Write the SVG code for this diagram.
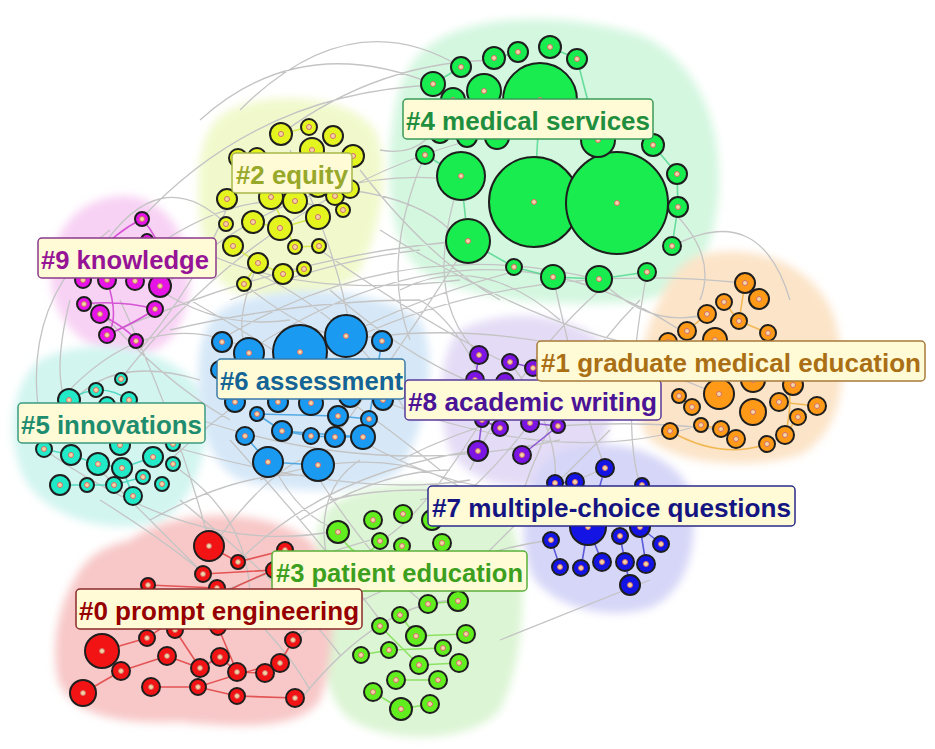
<svg xmlns="http://www.w3.org/2000/svg" width="935" height="749" viewBox="0 0 935 749">
<defs>
<filter id="soft" x="-10%" y="-10%" width="120%" height="120%"><feGaussianBlur stdDeviation="4"/></filter>
<marker id="dot" markerUnits="userSpaceOnUse" markerWidth="8" markerHeight="8" refX="4" refY="4" viewBox="0 0 8 8"><circle cx="4" cy="4" r="2.5" fill="#f4d6a4" stroke="#d46e6a" stroke-width="1"/></marker>
</defs>
<style>
.blob{filter:url(#soft)}
.gray{fill:none;stroke:#c4c4c4;stroke-width:1.3}
.ie{fill:none;stroke-width:1.6;opacity:0.85}
.dots{fill:none;stroke:none;marker-start:url(#dot);marker-mid:url(#dot);marker-end:url(#dot)}
circle.n{stroke:#1e1e1e;stroke-width:2}
.c0 circle.n{fill:#f21414}.c1 circle.n{fill:#ff9a18}.c2 circle.n{fill:#e4f41e}.c3 circle.n{fill:#62ee1e}.c4 circle.n{fill:#18ec4e}
.c5 circle.n{fill:#22eac8}.c6 circle.n{fill:#1a9af0}.c7 circle.n{fill:#1414e4}.c8 circle.n{fill:#7c14e4}.c9 circle.n{fill:#e614e6}
.lb rect{fill:#fefbd6;stroke-width:1.5}
.lb text{font-family:"Liberation Sans",Arial,sans-serif;font-weight:bold;font-size:25px}
</style>
<rect width="935" height="749" fill="#ffffff"/>
<g id="blobs">
<path class="blob" fill="#d4f7e0" d="M430 45 C470 15 560 10 640 35 C700 60 725 130 718 200 C712 260 690 300 620 303 C540 306 470 300 420 270 C385 240 385 160 395 110 C400 80 410 60 430 45 Z"/>
<path class="blob" fill="#f1f9cc" d="M230 110 C270 90 350 95 375 130 C392 170 380 230 360 270 C340 300 270 305 230 290 C200 270 195 200 200 160 C205 130 215 118 230 110 Z"/>
<path class="blob" fill="#f8d2f4" d="M100 200 C140 185 180 210 188 260 C195 310 175 350 140 355 C100 358 60 335 52 290 C45 250 65 210 100 200 Z"/>
<path class="blob" fill="#d2f5f0" d="M40 360 C90 335 170 345 200 390 C215 430 200 500 160 522 C110 535 50 520 25 480 C5 440 10 385 40 360 Z"/>
<path class="blob" fill="#d6e8f8" d="M230 305 C290 280 380 290 420 320 C440 360 425 430 400 470 C370 495 290 495 240 480 C200 460 195 400 200 350 C205 325 215 312 230 305 Z"/>
<path class="blob" fill="#e4dcf6" d="M460 330 C510 305 580 315 610 350 C620 400 610 460 570 480 C520 495 470 485 450 450 C435 410 440 350 460 330 Z"/>
<path class="blob" fill="#fce4c8" d="M700 255 C760 240 820 270 835 320 C848 370 845 430 800 455 C750 470 680 465 650 440 C625 410 640 340 660 300 C670 275 685 260 700 255 Z"/>
<path class="blob" fill="#d6d6f8" d="M560 450 C610 435 670 450 690 490 C700 540 690 590 650 608 C610 620 560 610 535 580 C515 545 520 470 560 450 Z"/>
<path class="blob" fill="#dcf5d4" d="M340 500 C390 475 470 480 510 520 C530 570 525 660 500 710 C470 745 380 745 345 715 C315 680 310 600 315 550 C318 520 325 508 340 500 Z"/>
<path class="blob" fill="#f8c8c8" d="M130 540 C170 510 260 505 310 540 C340 580 335 660 320 700 C300 730 240 728 180 722 C120 725 70 715 58 680 C50 640 60 600 80 570 C95 550 110 545 130 540 Z"/>
</g>
<g id="connectors">
<path class="gray" d="M140 220 Q260 90 440 85 M160 290 Q300 160 460 180 M105 335 Q300 250 480 240 M120 380 Q260 200 470 140 M60 400 Q150 300 250 350 M45 450 Q200 560 340 530 M170 460 Q320 320 520 270 M220 340 Q400 230 600 280 M250 350 Q480 200 680 330 M300 350 Q500 300 720 395 M350 340 Q520 260 745 283 M380 400 Q560 470 700 425 M360 440 Q500 520 600 470 M270 460 Q300 520 340 530 M310 465 Q370 560 420 600 M210 550 Q260 480 300 460 M240 560 Q330 470 480 450 M290 640 Q420 560 550 540 M300 700 Q380 600 460 600 M120 300 Q180 430 210 545 M100 470 Q150 520 200 570 M460 180 Q420 300 480 355 M470 240 Q400 350 335 437 M553 277 Q580 400 605 468 M599 279 Q650 330 707 314 M647 272 Q620 420 640 485 M510 362 Q560 430 555 483 M482 420 Q420 520 380 541 M530 423 Q480 490 430 520 M558 426 Q650 420 720 430 M673 246 Q760 200 790 300 M433 84 Q300 30 200 120 M461 67 Q350 0 240 110 M281 134 Q380 60 500 60 M226 224 Q160 160 100 250 M244 284 Q300 330 350 340 M258 263 Q230 330 250 353 M320 250 Q420 320 500 360 M350 190 Q420 200 450 230 M200 380 Q100 350 60 420 M180 470 Q250 520 250 600 M140 350 Q200 280 230 200 M70 300 Q50 380 70 410 M380 230 Q540 330 660 350 M420 500 Q520 470 600 510 M330 500 Q450 470 640 530 M150 440 Q350 500 470 480 M230 440 Q320 540 380 620 M600 290 Q520 360 470 470 M660 200 Q720 250 700 300 M380 150 Q430 160 450 100 M360 170 Q430 260 500 300 M290 150 Q340 260 350 330 M200 250 Q300 300 460 280 M150 250 Q250 180 330 210 M90 300 Q160 380 230 420 M40 420 Q20 300 110 230 M180 500 Q300 600 340 655 M200 600 Q300 560 370 540 M420 300 Q470 330 500 430 M640 300 Q560 380 520 500 M190 300 Q330 380 440 470 M170 330 Q300 300 420 300 M400 290 Q480 250 560 320 M425 155 Q380 260 410 340 M230 300 Q330 260 420 250 M330 290 Q430 380 530 400 M200 420 Q380 480 560 440 M260 480 Q420 430 500 520 M400 460 Q520 400 640 400 M150 520 Q260 460 330 480 M300 520 Q380 470 450 470 M160 290 Q220 330 290 320 M100 500 Q260 600 310 690 M340 600 Q300 500 360 460 M470 570 Q560 480 610 430 M500 640 Q600 600 650 580 M250 270 Q360 320 410 420"/>
<path class="ie" stroke="#54d88e" d="M461 176 L468 241 M468 241 L514 267 M514 267 L553 277 M553 277 L599 279 M599 279 L647 272 M672 246 L678 207 M678 207 L677 174 M677 174 L653 145 M433 84 L461 67 M494 58 L518 52 M550 47 L577 59 M577 59 L598 140 M425 155 L461 176 M534 202 L540 100"/>
<path class="ie" stroke="#d4e83c" d="M253 222 L280 228 M280 228 L318 217 M233 246 L258 263 M258 263 L283 274 M283 274 L304 269 M295 247 L319 246 M271 197 L295 247 M281 134 L309 127 M244 284 L258 263"/>
<path class="ie" stroke="#d040d0" d="M142 219 Q170 250 160 286 M107 280 Q120 320 107 335 M84 304 Q120 300 155 309 M100 314 Q130 330 136 341 M107 335 Q140 320 155 309 M142 219 Q100 240 83 280"/>
<path class="ie" stroke="#3cd6bc" d="M69 400 Q100 380 129 400 M71 455 L98 464 M98 464 L122 468 M122 468 L153 457 M60 485 L87 485 M87 485 L114 485 M114 485 L143 477 M133 496 L122 468 M44 449 L71 455"/>
<path class="ie" stroke="#3c9ee0" d="M257 414 L282 431 M282 431 L311 436 M311 436 L335 437 M335 437 L363 437 M245 436 L268 462 M268 462 L318 465 M338 416 L369 419 M369 419 L382 341 M257 414 L338 416 M282 431 L363 437"/>
<path class="ie" stroke="#8040d0" d="M479 355 L475 380 M510 362 L533 368 M482 420 L500 428 M530 423 L558 426 M478 451 L482 420 M522 455 L558 426"/>
<path class="ie" stroke="#f0b040" d="M745 283 L759 299 M724 302 L739 321 M739 321 L768 333 M707 314 L687 331 M670 431 Q720 460 767 444 M701 425 L721 429 M721 429 L736 439 M785 435 L798 417 M779 402 L817 406 M679 396 L692 407 M745 283 L739 321 M768 333 Q800 380 785 435"/>
<path class="ie" stroke="#4646d6" d="M605 468 L588 527 M555 483 L575 482 M575 482 L588 527 M620 536 L625 562 M640 527 L661 544 M602 562 L588 527 M630 585 L625 562 M646 564 L640 527 M560 567 L551 540 M581 568 L588 527"/>
<path class="ie" stroke="#7ede4e" d="M428 604 L458 601 M400 615 L416 636 M416 636 L466 634 M361 655 L389 650 M389 650 L443 648 M419 665 L459 663 M396 680 L438 680 M373 692 L401 709 M401 709 L430 704 M380 626 L419 665 M338 532 Q360 570 380 541"/>
<path class="ie" stroke="#e04040" d="M209 546 L238 562 M238 562 L285 550 M203 574 L274 570 M148 585 L217 588 M102 651 L147 638 M121 671 L167 656 M167 656 L200 668 M200 668 L220 657 M220 657 L237 672 M237 672 L265 673 M151 687 L198 687 M198 687 L237 696 M237 696 L295 698 M83 693 L121 671 M280 663 L293 640 M175 630 L200 668 M218 627 L237 672 M198 687 Q250 670 280 663 M147 638 Q200 600 274 570"/>
</g>
<g id="cluster-4" class="c4">
<circle class="n" cx="540" cy="100" r="37"/><circle class="n" cx="534" cy="202" r="45"/><circle class="n" cx="617" cy="203" r="51"/><circle class="n" cx="461" cy="176" r="24"/><circle class="n" cx="468" cy="241" r="22"/><circle class="n" cx="433" cy="84" r="12"/><circle class="n" cx="461" cy="67" r="10"/><circle class="n" cx="494" cy="58" r="11"/><circle class="n" cx="518" cy="52" r="10"/><circle class="n" cx="550" cy="47" r="11"/><circle class="n" cx="577" cy="59" r="10"/><circle class="n" cx="484" cy="91" r="17"/><circle class="n" cx="453" cy="100" r="12"/><circle class="n" cx="440" cy="133" r="10"/><circle class="n" cx="467" cy="137" r="10"/><circle class="n" cx="497" cy="137" r="12"/><circle class="n" cx="598" cy="140" r="17"/><circle class="n" cx="425" cy="155" r="9"/><circle class="n" cx="653" cy="145" r="11"/><circle class="n" cx="677" cy="174" r="10"/><circle class="n" cx="678" cy="207" r="10"/><circle class="n" cx="672" cy="246" r="9"/><circle class="n" cx="647" cy="272" r="9"/><circle class="n" cx="599" cy="279" r="13"/><circle class="n" cx="553" cy="277" r="12"/><circle class="n" cx="514" cy="267" r="8"/>
<path class="dots" d="M540 100 L534 202 L617 203 L461 176 L468 241 L433 84 L461 67 L494 58 L518 52 L550 47 L577 59 L484 91 L453 100 L440 133 L467 137 L497 137 L598 140 L425 155 L653 145 L677 174 L678 207 L672 246 L647 272 L599 279 L553 277 L514 267"/>
</g>
<g id="cluster-2" class="c2">
<circle class="n" cx="281" cy="134" r="11"/><circle class="n" cx="309" cy="127" r="8"/><circle class="n" cx="333" cy="136" r="10"/><circle class="n" cx="312" cy="150" r="12"/><circle class="n" cx="353" cy="156" r="11"/><circle class="n" cx="238" cy="158" r="9"/><circle class="n" cx="257" cy="157" r="9"/><circle class="n" cx="227" cy="199" r="10"/><circle class="n" cx="271" cy="197" r="12"/><circle class="n" cx="295" cy="201" r="12"/><circle class="n" cx="318" cy="186" r="11"/><circle class="n" cx="335" cy="196" r="9"/><circle class="n" cx="350" cy="189" r="9"/><circle class="n" cx="343" cy="210" r="7"/><circle class="n" cx="318" cy="217" r="12"/><circle class="n" cx="280" cy="228" r="12"/><circle class="n" cx="253" cy="222" r="11"/><circle class="n" cx="226" cy="224" r="7"/><circle class="n" cx="233" cy="246" r="10"/><circle class="n" cx="295" cy="247" r="7"/><circle class="n" cx="319" cy="246" r="7"/><circle class="n" cx="258" cy="263" r="10"/><circle class="n" cx="283" cy="274" r="10"/><circle class="n" cx="304" cy="269" r="7"/><circle class="n" cx="244" cy="284" r="7"/>
<path class="dots" d="M281 134 L309 127 L333 136 L312 150 L353 156 L238 158 L257 157 L227 199 L271 197 L295 201 L318 186 L335 196 L350 189 L343 210 L318 217 L280 228 L253 222 L226 224 L233 246 L295 247 L319 246 L258 263 L283 274 L304 269 L244 284"/>
</g>
<g id="cluster-9" class="c9">
<circle class="n" cx="142" cy="219" r="7"/><circle class="n" cx="147" cy="240" r="6"/><circle class="n" cx="83" cy="280" r="8"/><circle class="n" cx="107" cy="280" r="9"/><circle class="n" cx="135" cy="281" r="9"/><circle class="n" cx="160" cy="286" r="11"/><circle class="n" cx="84" cy="304" r="7"/><circle class="n" cx="100" cy="314" r="9"/><circle class="n" cx="155" cy="309" r="8"/><circle class="n" cx="107" cy="335" r="8"/><circle class="n" cx="136" cy="341" r="7"/>
<path class="dots" d="M142 219 L147 240 L83 280 L107 280 L135 281 L160 286 L84 304 L100 314 L155 309 L107 335 L136 341"/>
</g>
<g id="cluster-5" class="c5">
<circle class="n" cx="121" cy="379" r="6"/><circle class="n" cx="96" cy="390" r="7"/><circle class="n" cx="69" cy="400" r="11"/><circle class="n" cx="129" cy="400" r="8"/><circle class="n" cx="107" cy="405" r="8"/><circle class="n" cx="44" cy="449" r="8"/><circle class="n" cx="71" cy="455" r="10"/><circle class="n" cx="98" cy="464" r="11"/><circle class="n" cx="122" cy="468" r="10"/><circle class="n" cx="153" cy="457" r="10"/><circle class="n" cx="173" cy="464" r="7"/><circle class="n" cx="120" cy="445" r="10"/><circle class="n" cx="173" cy="444" r="7"/><circle class="n" cx="60" cy="485" r="10"/><circle class="n" cx="87" cy="485" r="7"/><circle class="n" cx="114" cy="485" r="8"/><circle class="n" cx="143" cy="477" r="7"/><circle class="n" cx="162" cy="484" r="7"/><circle class="n" cx="133" cy="496" r="9"/>
<path class="dots" d="M121 379 L96 390 L69 400 L129 400 L107 405 L44 449 L71 455 L98 464 L122 468 L153 457 L173 464 L120 445 L173 444 L60 485 L87 485 L114 485 L143 477 L162 484 L133 496"/>
</g>
<g id="cluster-6" class="c6">
<circle class="n" cx="222" cy="342" r="10"/><circle class="n" cx="249" cy="353" r="15"/><circle class="n" cx="300" cy="352" r="27"/><circle class="n" cx="346" cy="336" r="21"/><circle class="n" cx="382" cy="341" r="10"/><circle class="n" cx="220" cy="370" r="9"/><circle class="n" cx="235" cy="402" r="10"/><circle class="n" cx="278" cy="402" r="10"/><circle class="n" cx="311" cy="403" r="12"/><circle class="n" cx="350" cy="396" r="11"/><circle class="n" cx="383" cy="400" r="10"/><circle class="n" cx="257" cy="414" r="7"/><circle class="n" cx="338" cy="416" r="10"/><circle class="n" cx="369" cy="419" r="8"/><circle class="n" cx="245" cy="436" r="9"/><circle class="n" cx="282" cy="431" r="10"/><circle class="n" cx="311" cy="436" r="8"/><circle class="n" cx="335" cy="437" r="10"/><circle class="n" cx="363" cy="437" r="12"/><circle class="n" cx="268" cy="462" r="15"/><circle class="n" cx="318" cy="465" r="16"/>
<path class="dots" d="M222 342 L249 353 L300 352 L346 336 L382 341 L220 370 L235 402 L278 402 L311 403 L350 396 L383 400 L257 414 L338 416 L369 419 L245 436 L282 431 L311 436 L335 437 L363 437 L268 462 L318 465"/>
</g>
<g id="cluster-8" class="c8">
<circle class="n" cx="479" cy="355" r="9"/><circle class="n" cx="510" cy="362" r="8"/><circle class="n" cx="533" cy="368" r="8"/><circle class="n" cx="475" cy="380" r="9"/><circle class="n" cx="505" cy="382" r="9"/><circle class="n" cx="482" cy="420" r="7"/><circle class="n" cx="500" cy="428" r="8"/><circle class="n" cx="530" cy="423" r="9"/><circle class="n" cx="558" cy="426" r="7"/><circle class="n" cx="478" cy="451" r="10"/><circle class="n" cx="522" cy="455" r="9"/>
<path class="dots" d="M479 355 L510 362 L533 368 L475 380 L505 382 L482 420 L500 428 L530 423 L558 426 L478 451 L522 455"/>
</g>
<g id="cluster-1" class="c1">
<circle class="n" cx="745" cy="283" r="10"/><circle class="n" cx="759" cy="299" r="10"/><circle class="n" cx="724" cy="302" r="8"/><circle class="n" cx="707" cy="314" r="9"/><circle class="n" cx="739" cy="321" r="8"/><circle class="n" cx="687" cy="331" r="9"/><circle class="n" cx="768" cy="333" r="8"/><circle class="n" cx="668" cy="342" r="9"/><circle class="n" cx="715" cy="340" r="12"/><circle class="n" cx="753" cy="380" r="12"/><circle class="n" cx="719" cy="394" r="15"/><circle class="n" cx="793" cy="385" r="10"/><circle class="n" cx="679" cy="396" r="7"/><circle class="n" cx="692" cy="407" r="8"/><circle class="n" cx="753" cy="412" r="13"/><circle class="n" cx="779" cy="402" r="9"/><circle class="n" cx="817" cy="406" r="9"/><circle class="n" cx="798" cy="417" r="8"/><circle class="n" cx="701" cy="425" r="7"/><circle class="n" cx="721" cy="429" r="8"/><circle class="n" cx="670" cy="431" r="8"/><circle class="n" cx="736" cy="439" r="9"/><circle class="n" cx="785" cy="435" r="9"/><circle class="n" cx="767" cy="444" r="8"/>
<path class="dots" d="M745 283 L759 299 L724 302 L707 314 L739 321 L687 331 L768 333 L668 342 L715 340 L753 380 L719 394 L793 385 L679 396 L692 407 L753 412 L779 402 L817 406 L798 417 L701 425 L721 429 L670 431 L736 439 L785 435 L767 444"/>
</g>
<g id="cluster-7" class="c7">
<circle class="n" cx="605" cy="468" r="9"/><circle class="n" cx="555" cy="483" r="8"/><circle class="n" cx="575" cy="482" r="9"/><circle class="n" cx="642" cy="485" r="7"/><circle class="n" cx="588" cy="527" r="18"/><circle class="n" cx="640" cy="527" r="10"/><circle class="n" cx="551" cy="540" r="8"/><circle class="n" cx="620" cy="536" r="8"/><circle class="n" cx="661" cy="544" r="8"/><circle class="n" cx="560" cy="567" r="8"/><circle class="n" cx="581" cy="568" r="8"/><circle class="n" cx="602" cy="562" r="9"/><circle class="n" cx="625" cy="562" r="9"/><circle class="n" cx="646" cy="564" r="9"/><circle class="n" cx="630" cy="585" r="10"/>
<path class="dots" d="M605 468 L555 483 L575 482 L642 485 L588 527 L640 527 L551 540 L620 536 L661 544 L560 567 L581 568 L602 562 L625 562 L646 564 L630 585"/>
</g>
<g id="cluster-3" class="c3">
<circle class="n" cx="338" cy="532" r="11"/><circle class="n" cx="373" cy="520" r="9"/><circle class="n" cx="403" cy="514" r="9"/><circle class="n" cx="432" cy="520" r="10"/><circle class="n" cx="380" cy="541" r="8"/><circle class="n" cx="402" cy="546" r="8"/><circle class="n" cx="442" cy="543" r="9"/><circle class="n" cx="428" cy="604" r="9"/><circle class="n" cx="458" cy="601" r="10"/><circle class="n" cx="400" cy="615" r="8"/><circle class="n" cx="380" cy="626" r="8"/><circle class="n" cx="416" cy="636" r="10"/><circle class="n" cx="466" cy="634" r="9"/><circle class="n" cx="361" cy="655" r="8"/><circle class="n" cx="389" cy="650" r="8"/><circle class="n" cx="443" cy="648" r="8"/><circle class="n" cx="419" cy="665" r="9"/><circle class="n" cx="459" cy="663" r="9"/><circle class="n" cx="396" cy="680" r="9"/><circle class="n" cx="438" cy="680" r="9"/><circle class="n" cx="373" cy="692" r="9"/><circle class="n" cx="401" cy="709" r="11"/><circle class="n" cx="430" cy="704" r="9"/>
<path class="dots" d="M338 532 L373 520 L403 514 L432 520 L380 541 L402 546 L442 543 L428 604 L458 601 L400 615 L380 626 L416 636 L466 634 L361 655 L389 650 L443 648 L419 665 L459 663 L396 680 L438 680 L373 692 L401 709 L430 704"/>
</g>
<g id="cluster-0" class="c0">
<circle class="n" cx="209" cy="546" r="15"/><circle class="n" cx="238" cy="562" r="7"/><circle class="n" cx="285" cy="550" r="8"/><circle class="n" cx="203" cy="574" r="8"/><circle class="n" cx="148" cy="585" r="7"/><circle class="n" cx="217" cy="588" r="8"/><circle class="n" cx="274" cy="570" r="8"/><circle class="n" cx="102" cy="651" r="17"/><circle class="n" cx="147" cy="638" r="8"/><circle class="n" cx="121" cy="671" r="9"/><circle class="n" cx="167" cy="656" r="9"/><circle class="n" cx="175" cy="630" r="8"/><circle class="n" cx="200" cy="668" r="9"/><circle class="n" cx="220" cy="657" r="9"/><circle class="n" cx="237" cy="672" r="9"/><circle class="n" cx="265" cy="673" r="9"/><circle class="n" cx="280" cy="663" r="9"/><circle class="n" cx="293" cy="640" r="8"/><circle class="n" cx="83" cy="693" r="13"/><circle class="n" cx="151" cy="687" r="9"/><circle class="n" cx="198" cy="687" r="8"/><circle class="n" cx="237" cy="696" r="8"/><circle class="n" cx="295" cy="698" r="9"/><circle class="n" cx="218" cy="627" r="8"/>
<path class="dots" d="M209 546 L238 562 L285 550 L203 574 L148 585 L217 588 L274 570 L102 651 L147 638 L121 671 L167 656 L175 630 L200 668 L220 657 L237 672 L265 673 L280 663 L293 640 L83 693 L151 687 L198 687 L237 696 L295 698 L218 627"/>
</g>
<g id="labels" class="lb">
<g id="label-4"><rect x="403" y="99" width="250" height="40" rx="4" stroke="#3a9a58"/><text x="406" y="130" fill="#1f8f3f" textLength="244" lengthAdjust="spacingAndGlyphs">#4 medical services</text></g>
<g id="label-2"><rect x="232" y="153" width="120" height="40" rx="4" stroke="#a8b848"/><text x="236" y="184" fill="#98a82a" textLength="112" lengthAdjust="spacingAndGlyphs">#2 equity</text></g>
<g id="label-9"><rect x="38" y="238" width="178" height="40" rx="4" stroke="#8a3a8a"/><text x="41" y="269" fill="#961496" textLength="168" lengthAdjust="spacingAndGlyphs">#9 knowledge</text></g>
<g id="label-5"><rect x="18" y="403" width="187" height="40" rx="4" stroke="#3a9a80"/><text x="21" y="434" fill="#1e8c6e" textLength="181" lengthAdjust="spacingAndGlyphs">#5 innovations</text></g>
<g id="label-6"><rect x="217" y="359" width="188" height="40" rx="4" stroke="#3a7aa8"/><text x="220" y="390" fill="#146496" textLength="183" lengthAdjust="spacingAndGlyphs">#6 assessment</text></g>
<g id="label-8"><rect x="405" y="380" width="256" height="40" rx="4" stroke="#5a3a9a"/><text x="408" y="411" fill="#4b1496" textLength="249" lengthAdjust="spacingAndGlyphs">#8 academic writing</text></g>
<g id="label-1"><rect x="537" y="341" width="388" height="40" rx="4" stroke="#a87a3a"/><text x="541" y="372" fill="#aa6e14" textLength="380" lengthAdjust="spacingAndGlyphs">#1 graduate medical education</text></g>
<g id="label-7"><rect x="428" y="486" width="367" height="40" rx="4" stroke="#2a2a8a"/><text x="432" y="517" fill="#141482" textLength="359" lengthAdjust="spacingAndGlyphs">#7 multiple-choice questions</text></g>
<g id="label-3"><rect x="272" y="551" width="255" height="40" rx="4" stroke="#5ab03a"/><text x="276" y="582" fill="#3ca01e" textLength="247" lengthAdjust="spacingAndGlyphs">#3 patient education</text></g>
<g id="label-0"><rect x="76" y="589" width="286" height="40" rx="4" stroke="#8a2a2a"/><text x="79" y="620" fill="#960000" textLength="280" lengthAdjust="spacingAndGlyphs">#0 prompt engineering</text></g>
</g>
</svg>
